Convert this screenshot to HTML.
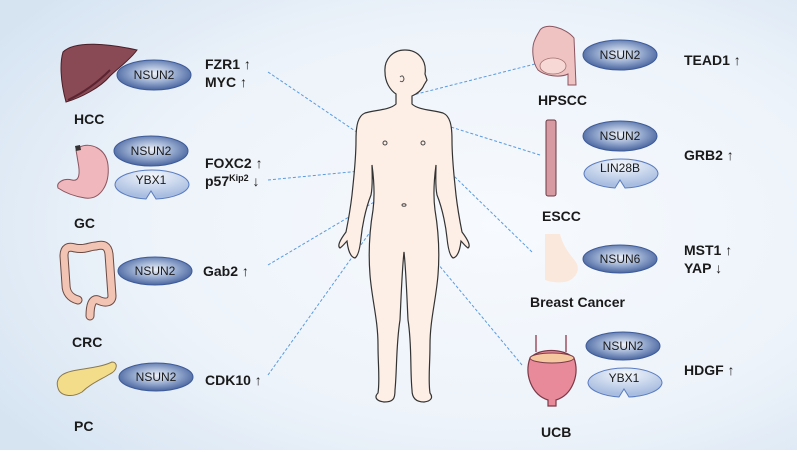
<!DOCTYPE html>
<html><head><meta charset="utf-8"><style>
html,body{margin:0;padding:0}
body{width:797px;height:450px;overflow:hidden;font-family:"Liberation Sans",sans-serif}
</style></head><body>
<svg width="797" height="450" viewBox="0 0 797 450" xmlns="http://www.w3.org/2000/svg" font-family="Liberation Sans, sans-serif">
<defs>
<radialGradient id="bg" cx="0.62" cy="0.5" r="0.75">
<stop offset="0" stop-color="#f7fafe"/><stop offset="0.6" stop-color="#edf3fa"/><stop offset="1" stop-color="#d6e4f2"/>
</radialGradient>
<radialGradient id="ns" cx="0.5" cy="0.45" r="0.6">
<stop offset="0" stop-color="#eef2f9"/><stop offset="0.45" stop-color="#9fb2d4"/><stop offset="1" stop-color="#3a5896"/>
</radialGradient>
<radialGradient id="yb" cx="0.5" cy="0.2" r="0.7">
<stop offset="0" stop-color="#f4f7fc"/><stop offset="1" stop-color="#a8bde0"/>
</radialGradient>
</defs>
<rect width="797" height="450" fill="url(#bg)"/>

<g stroke="#5a9be0" stroke-width="1" stroke-dasharray="3,2" fill="none">
<line x1="268" y1="72" x2="398" y2="160"/>
<line x1="268" y1="180" x2="422" y2="165"/>
<line x1="268" y1="265" x2="386" y2="195"/>
<line x1="268" y1="375" x2="413" y2="172"/>
<line x1="535" y1="64" x2="405" y2="97"/>
<line x1="540" y1="155" x2="403" y2="112"/>
<line x1="532" y1="252" x2="422" y2="145"/>
<line x1="522" y1="365" x2="408" y2="228"/>
</g>

<path d="M405 50 C392 50 384 60 385 72 C385 82 390 90 396 94 L396 104 C390 110 375 110 365 113 C358 116 356 125 356 140 C356 160 354 175 352 195 C350 212 348 222 346 232 C340 240 337 246 340 248 C343 246 345 243 347 241 C348 250 350 257 355 258 C358 256 360 248 361 238 C362 228 365 210 371 195 C373 185 372 175 372 165 C374 180 375 195 373 210 C370 228 368 250 370 275 C372 300 378 320 378 345 C378 365 380 380 378 393 C374 397 376 401 384 402 C394 402 395 398 395 390 C397 370 396 345 400 320 C401 300 402 270 404 252 C406 270 407 300 408 320 C412 345 410 370 412 390 C412 398 416 402 424 402 C432 401 433 397 430 393 C428 380 430 365 430 345 C430 320 436 300 438 275 C440 250 438 228 435 210 C433 195 434 180 436 165 C436 175 435 185 437 195 C443 210 446 228 447 238 C448 248 450 256 453 258 C458 257 460 250 461 241 C463 243 465 246 468 248 C471 246 468 240 462 232 C460 222 458 212 456 195 C454 175 452 160 452 140 C452 125 450 116 443 113 C433 110 418 110 412 104 L412 96 C417 94 422 90 424 85 L427 80 L425 74 C427 60 418 50 405 50 Z" fill="#fdeee6" stroke="#333" stroke-width="1.2"/>
<circle cx="385" cy="143" r="2" fill="none" stroke="#444"/>
<circle cx="423" cy="143" r="2" fill="none" stroke="#444"/>
<ellipse cx="404" cy="205" rx="2" ry="1.3" fill="none" stroke="#444"/>
<path d="M400 77 q3 -3 4 2 q-1 4 -4 2" fill="none" stroke="#555"/>

<!-- liver -->
<path d="M63 52 C75 40 110 44 137 50 C130 60 118 68 110 76 C100 88 80 98 66 102 C60 80 60 62 63 52 Z" fill="#8a4a55" stroke="#4a1f27" stroke-width="1"/>
<path d="M68 100 C85 92 100 80 110 70" stroke="#5a2430" fill="none" stroke-width="2"/>
<!-- stomach -->
<path d="M76 150 L80 147 C90 142 106 148 108 165 C110 185 100 200 85 198 C72 196 64 192 58 188 C56 182 64 178 72 180 C80 182 80 172 78 162 Z" fill="#f0b8bc" stroke="#8a5560" stroke-width="1"/>
<path d="M75 146 l5 -1 l1 5 l-5 1z" fill="#333"/>
<!-- colon -->
<g fill="none" stroke-linecap="round" stroke-linejoin="round">
<path d="M78 300 C70 298 66 292 66 285 L64 256 C64 248 68 246 75 248 C85 250 90 246 96 246 C104 244 108 246 109 254 L112 296 C112 302 106 304 98 300 C92 298 90 306 90 316" stroke="#6a4a44" stroke-width="9"/>
<path d="M78 300 C70 298 66 292 66 285 L64 256 C64 248 68 246 75 248 C85 250 90 246 96 246 C104 244 108 246 109 254 L112 296 C112 302 106 304 98 300 C92 298 90 306 90 316" stroke="#f2c4b4" stroke-width="7"/>
</g>
<!-- pancreas -->
<path d="M62 375 C72 368 95 370 112 362 C118 362 118 370 110 374 C100 380 90 384 82 392 C72 398 60 396 58 388 C56 382 58 378 62 375 Z" fill="#f4dd8a" stroke="#8a7a50" stroke-width="1"/>
<!-- hpscc -->
<path d="M540 30 C546 22 566 28 574 38 L576 85 L568 85 L568 74 C560 78 545 76 538 70 C532 62 532 48 534 42 C536 36 538 34 540 30 Z" fill="#f0c3c3" stroke="#8a5560" stroke-width="1"/>
<ellipse cx="553" cy="66" rx="13" ry="8" fill="#f7d8d4" stroke="#a07070" stroke-width="0.8"/>
<!-- escc -->
<rect x="546" y="120" width="10" height="76" rx="2" fill="#d89aa2" stroke="#6a3a44" stroke-width="1"/>
<!-- breast -->
<path d="M545 234 L560 234 C564 250 574 258 577 264 C580 272 574 280 565 282 C558 283 550 282 545 280 Z" fill="#fbe8dc"/>
<!-- bladder -->
<path d="M536 335 L536 352 M566 335 L566 352" stroke="#a05060" stroke-width="1.5"/>
<path d="M530 358 C540 348 562 348 574 358 C580 375 572 395 556 400 L556 406 L548 406 L548 400 C532 395 524 375 530 358 Z" fill="#e88a9a" stroke="#7a3a48" stroke-width="1.2"/>
<ellipse cx="552" cy="358" rx="22" ry="5" fill="#f5c8a0" stroke="#7a3a48" stroke-width="1"/>

<g stroke="#3d5b99" stroke-width="1">
<ellipse cx="154" cy="75" rx="37" ry="15" fill="url(#ns)"/>
<ellipse cx="151" cy="151" rx="37" ry="15" fill="url(#ns)"/>
<ellipse cx="155" cy="271" rx="37" ry="14" fill="url(#ns)"/>
<ellipse cx="156" cy="377" rx="37" ry="14" fill="url(#ns)"/>
<ellipse cx="620" cy="55" rx="37" ry="15" fill="url(#ns)"/>
<ellipse cx="620" cy="136" rx="37" ry="15" fill="url(#ns)"/>
<ellipse cx="620" cy="259" rx="37" ry="14" fill="url(#ns)"/>
<ellipse cx="623" cy="346" rx="37" ry="14" fill="url(#ns)"/>
</g>
<g stroke="#5a7cc0" stroke-width="1" fill="url(#yb)">
<path d="M115 185 A37 15 0 0 1 189 185 A37 15 0 0 1 156 199 L151 191 L146 199 A37 15 0 0 1 115 185 Z"/>
<path d="M584 174 A37 15 0 0 1 658 174 A37 15 0 0 1 625 188 L620 180 L615 188 A37 15 0 0 1 584 174 Z"/>
<path d="M588 383 A37 15 0 0 1 662 383 A37 15 0 0 1 629 397 L624 389 L619 397 A37 15 0 0 1 588 383 Z"/>
</g>
<g font-size="12" fill="#1a1a1a" text-anchor="middle">
<text x="154" y="79">NSUN2</text><text x="151" y="155">NSUN2</text><text x="151" y="184">YBX1</text>
<text x="155" y="275">NSUN2</text><text x="156" y="381">NSUN2</text>
<text x="620" y="59">NSUN2</text><text x="620" y="140">NSUN2</text><text x="620" y="172">LIN28B</text>
<text x="620" y="263">NSUN6</text><text x="623" y="350">NSUN2</text><text x="624" y="382">YBX1</text>
</g>
<g font-size="14" font-weight="bold" fill="#1a1a1a">
<text x="205" y="69">FZR1 ↑</text><text x="205" y="87">MYC ↑</text>
<text x="205" y="168">FOXC2 ↑</text><text x="205" y="186">p57<tspan font-size="9" dy="-5">Kip2</tspan><tspan dy="5"> ↓</tspan></text>
<text x="203" y="276">Gab2 ↑</text><text x="205" y="385">CDK10 ↑</text>
<text x="684" y="65">TEAD1 ↑</text><text x="684" y="160">GRB2 ↑</text>
<text x="684" y="255">MST1 ↑</text><text x="684" y="273">YAP ↓</text>
<text x="684" y="375">HDGF ↑</text>
<text x="74" y="124">HCC</text><text x="74" y="228">GC</text><text x="72" y="347">CRC</text><text x="74" y="431">PC</text>
<text x="538" y="105">HPSCC</text><text x="542" y="221">ESCC</text><text x="530" y="307">Breast Cancer</text><text x="541" y="437">UCB</text>
</g>
</svg>
</body></html>
